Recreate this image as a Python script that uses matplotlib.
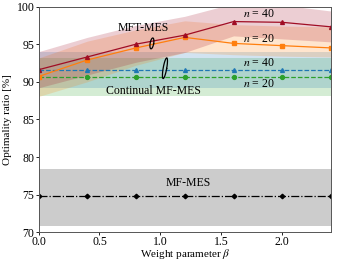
import numpy as np
import matplotlib
matplotlib.use('Agg')
import matplotlib.pyplot as plt

plt.rcParams['font.family'] = ['Liberation Serif', 'DejaVu Serif']
plt.rcParams['mathtext.fontset'] = 'stix'
plt.rcParams['font.size'] = 8.5

# data
beta = [0.0, 0.4, 0.8, 1.2, 1.6, 2.0, 2.4]

mft40 = [91.6, 93.3, 95.0, 96.2, 98.0, 97.9, 97.3]
mft40_lo = [89.2, 90.9, 92.6, 93.9, 96.1, 95.7, 95.3]
mft40_hi = [94.0, 95.9, 97.5, 98.7, 100.4, 100.2, 99.4]

mft20 = [90.7, 92.9, 94.5, 95.9, 95.1, 94.8, 94.5]
mft20_lo = [88.05, 90.0, 92.2, 93.9, 93.6, 93.4, 93.3]
mft20_hi = [93.15, 95.4, 96.9, 98.1, 97.6, 97.4, 97.3]

cont40 = [91.6] * 7
cont40_lo = [89.2] * 7
cont40_hi = [94.0] * 7

cont20 = [90.7] * 7
cont20_lo = [88.05] * 7
cont20_hi = [93.2] * 7

mfmes = [74.8] * 7
mfmes_lo = [70.9] * 7
mfmes_hi = [78.4] * 7

red = '#a00d24'
fig = plt.figure(figsize=(3.41, 2.61), dpi=100)
ax = fig.add_axes([0.113, 0.11, 0.858, 0.865])

ax.fill_between(beta, mfmes_lo, mfmes_hi, color='gray', alpha=0.4, lw=0)
ax.fill_between(beta, cont20_lo, cont20_hi, color='tab:green', alpha=0.2, lw=0)
ax.fill_between(beta, cont40_lo, cont40_hi, color='tab:blue', alpha=0.2, lw=0)
ax.fill_between(beta, mft20_lo, mft20_hi, color='tab:orange', alpha=0.2, lw=0)
ax.fill_between(beta, mft40_lo, mft40_hi, color=red, alpha=0.2, lw=0)

ax.plot(beta, mfmes, '-.', color='k', marker='D', ms=2.3, lw=0.9)
ax.plot(beta, cont20, '--', color='tab:green', marker='o', ms=2.8, lw=0.9)
ax.plot(beta, cont40, '--', color='tab:blue', marker='^', ms=2.8, lw=0.9)
ax.plot(beta, mft20, '-', color='tab:orange', marker='s', ms=2.6, lw=0.9)
ax.plot(beta, mft40, '-', color=red, marker='^', ms=2.8, lw=0.9)

# loop brackets (drawn in pixel-like units)
def loop(cx, cy, h, w):
    t = np.linspace(0, 2 * np.pi, 100)
    px = w / 2 * np.cos(t)
    py = h / 2 * np.sin(t)
    ang = np.deg2rad(-10)
    rx = px * np.cos(ang) - py * np.sin(ang)
    ry = px * np.sin(ang) + py * np.cos(ang)
    ax.plot(cx + rx / 121.7, cy + ry / 7.55, color='k', lw=0.9)

loop(0.93, 95.1, 11, 3.5)
loop(1.037, 91.8, 21, 3.5)

ax.text(0.86, 97.1, 'MFT-MES', ha='center', va='center')
ax.text(0.94, 88.8, 'Continual MF-MES', ha='center', va='center')
ax.text(1.81, 99.0, '$n$ = 40', ha='center', va='center')
ax.text(1.81, 95.65, '$n$ = 20', ha='center', va='center')
ax.text(1.81, 92.5, '$n$ = 40', ha='center', va='center')
ax.text(1.81, 89.7, '$n$ = 20', ha='center', va='center')
ax.text(1.23, 76.6, 'MF-MES', ha='center', va='center')

ax.set_xlim(0, 2.4)
ax.set_ylim(70, 100)
ax.set_xticks([0.0, 0.5, 1.0, 1.5, 2.0])
ax.set_yticks([70, 75, 80, 85, 90, 95, 100])
ax.set_xlabel(r'Weight parameter $\beta$', labelpad=-1, fontsize=8)
ax.set_ylabel('Optimality ratio [%]', labelpad=3, fontsize=8)
ax.tick_params(length=2.5, width=0.6, pad=0.5)
for s in ax.spines.values():
    s.set_color('#555555')
    s.set_linewidth(0.7)

fig.savefig('out.png', dpi=100)
